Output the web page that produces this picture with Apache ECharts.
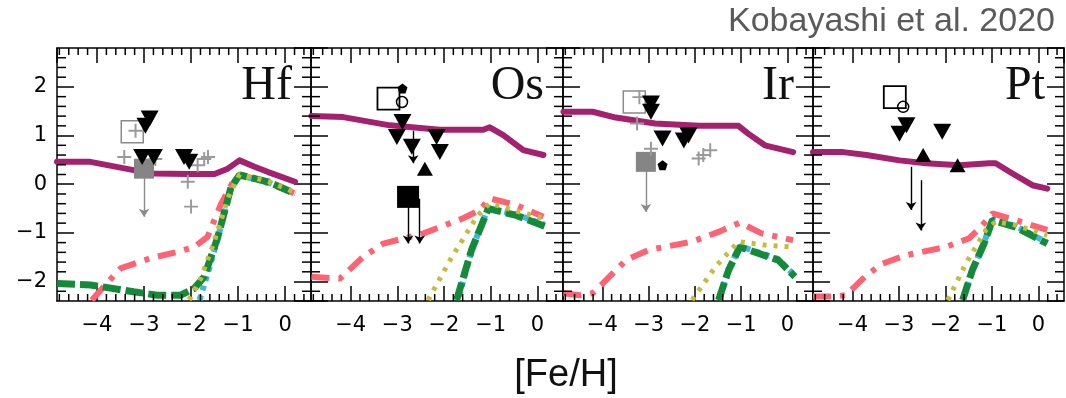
<!DOCTYPE html>
<html>
<head>
<meta charset="utf-8">
<script src="https://cdn.jsdelivr.net/npm/echarts@6/dist/echarts.min.js"></script>
<style>
html,body{margin:0;padding:0;background:#fff;}
#chart{width:1066px;height:398px;}
</style>
</head>
<body>
<div id="chart"></div>
<script>
// ---------- axis ranges / ticks ----------
const X_MIN = -4.85, X_MAX = 0.55, Y_MIN = -2.4, Y_MAX = 2.8;
const X_TICK_LABELS = [-4, -3, -2, -1, 0];
const Y_TICK_LABELS = [-2, -1, 0, 1, 2];
const X_MINOR = [-4.8,-4.6,-4.4,-4.2,-3.8,-3.6,-3.4,-3.2,-2.8,-2.6,-2.4,-2.2,-1.8,-1.6,-1.4,-1.2,-0.8,-0.6,-0.4,-0.2,0.2,0.4];
const Y_MINOR = [-2.2,-1.8,-1.6,-1.4,-1.2,-0.8,-0.6,-0.4,-0.2,0.2,0.4,0.6,0.8,1.2,1.4,1.6,1.8,2.2,2.4,2.6];
const ELEMENTS = ['Hf', 'Os', 'Ir', 'Pt'];

// ---------- Hf ----------
const HF_MAGENTA = [[-4.85,0.46],[-4.14,0.46],[-3.22,0.29],[-2.79,0.22],[-2.07,0.21],[-1.5,0.21],[-1.22,0.32],[-0.97,0.49],[-0.65,0.36],[-0.36,0.25],[0.21,0.05]];
const HF_PINK = [[-4.11,-2.38],[-3.86,-2.11],[-3.5,-1.73],[-2.86,-1.52],[-2.29,-1.39],[-1.93,-1.29],[-1.65,-1.08],[-1.36,-0.40],[-1.07,0.12],[-0.93,0.19],[-0.36,0.02],[0.21,-0.19]];
const HF_GREEN = [[-4.85,-2.04],[-4.14,-2.07],[-3.22,-2.21],[-2.72,-2.28],[-2.22,-2.28],[-1.93,-2.14],[-1.72,-1.9],[-1.43,-1.08],[-1.15,-0.06],[-0.97,0.19],[-0.36,0.05],[0.21,-0.19]];
const HF_CYAN = [[-1.82,-2.38],[-1.62,-1.75],[-1.43,-1.1],[-1.15,-0.08],[-0.97,0.18],[-0.36,0.04],[0.21,-0.2]];
const HF_OLIVE = [[-2.04,-2.38],[-1.8,-1.95],[-1.55,-1.3],[-1.2,-0.25],[-0.97,0.2],[-0.36,0.06],[0.21,-0.17]];
const HF_TRI_DOWN = [[-2.97,1.2],[-2.88,1.35],[-3.04,0.56],[-2.79,0.56],[-2.15,0.56],[-2.04,0.46]];
const HF_TRI_UP = [];
const HF_SQ_OPEN_GREY = [[-3.25,1.08]];
const HF_SQ_FILL_GREY = [[-3.0,0.32]];
const HF_CROSS_GREY = [[-3.18,1.1],[-3.42,0.56],[-2.76,0.52],[-1.86,0.39],[-1.64,0.56],[-1.72,0.52],[-2.07,0.05],[-2.0,-0.46]];
const HF_ARROW_GREY = [[-3.0,0.25,-0.67]];
const HF_ARROW_BLACK = [];
const HF_SQ_OPEN = [];
const HF_CIRCLE_OPEN = [];
const HF_SQ_FILL = [];
const HF_DOT = [];

// ---------- Os ----------
const OS_MAGENTA = [[-4.84,1.40],[-4.16,1.38],[-3.16,1.21],[-2.09,1.12],[-1.16,1.12],[-1.02,1.17],[-0.73,1.01],[-0.30,0.70],[0.13,0.60]];
const OS_PINK = [[-4.84,-1.90],[-4.23,-1.94],[-3.73,-1.49],[-3.30,-1.22],[-2.44,-1.01],[-1.59,-0.70],[-1.23,-0.53],[-1.02,-0.29],[-0.45,-0.43],[0.13,-0.67]];
const OS_GREEN = [[-1.73,-2.38],[-1.41,-1.35],[-1.05,-0.50],[-0.45,-0.64],[0.2,-0.88]];
const OS_CYAN = [[-1.68,-2.3],[-1.4,-1.33],[-1.05,-0.48],[-0.45,-0.62],[0.15,-0.83]];
const OS_OLIVE = [[-2.34,-2.38],[-1.87,-1.56],[-1.30,-0.67],[-1.02,-0.39],[-0.45,-0.55],[0.13,-0.70]];
const OS_TRI_DOWN = [[-3.01,0.97],[-2.89,1.28],[-2.69,0.77],[-2.16,0.97],[-2.09,0.66]];
const OS_TRI_UP = [[-2.41,0.32]];
const OS_SQ_OPEN_GREY = [];
const OS_SQ_FILL_GREY = [];
const OS_CROSS_GREY = [];
const OS_ARROW_GREY = [];
const OS_ARROW_BLACK = [[-2.66,1.1,0.43],[-2.77,-0.3,-1.22],[-2.52,-0.3,-1.22]];
const OS_SQ_OPEN = [[-3.19,1.76]];
const OS_CIRCLE_OPEN = [[-2.90,1.69]];
const OS_SQ_FILL = [[-2.77,-0.26]];
const OS_DOT = [[-2.89,1.97]];

// ---------- Ir ----------
const IR_MAGENTA = [[-4.84,1.49],[-4.21,1.49],[-3.71,1.37],[-2.86,1.25],[-1.92,1.20],[-1.06,1.20],[-0.85,1.04],[-0.49,0.80],[0.12,0.66]];
const IR_PINK = [[-4.84,-2.24],[-4.49,-2.28],[-4.21,-2.24],[-3.99,-2.04],[-3.49,-1.56],[-2.99,-1.35],[-2.06,-1.18],[-1.49,-0.98],[-1.03,-0.79],[-0.56,-1.01],[0.12,-1.15]];
const IR_GREEN = [[-1.49,-2.38],[-1.27,-1.76],[-1.03,-1.29],[-0.20,-1.56],[0.16,-1.90]];
const IR_CYAN = [[-1.45,-2.3],[-1.27,-1.74],[-1.03,-1.27],[-0.2,-1.54],[0.16,-1.88]];
const IR_OLIVE = [[-2.06,-2.38],[-1.56,-1.70],[-1.06,-1.18],[-0.49,-1.25],[0.12,-1.29]];
const IR_TRI_DOWN = [[-2.95,1.66],[-2.95,1.49],[-2.70,0.94],[-2.24,0.90],[-2.14,1.0]];
const IR_TRI_UP = [];
const IR_SQ_OPEN_GREY = [[-3.31,1.69]];
const IR_SQ_FILL_GREY = [[-3.06,0.46]];
const IR_CROSS_GREY = [[-3.2,1.79],[-3.25,1.25],[-1.92,0.53],[-1.67,0.70],[-2.95,0.73],[-1.82,0.6]];
const IR_ARROW_GREY = [[-3.06,0.4,-0.57]];
const IR_ARROW_BLACK = [];
const IR_SQ_OPEN = [];
const IR_CIRCLE_OPEN = [];
const IR_SQ_FILL = [];
const IR_DOT = [[-2.70,0.39]];

// ---------- Pt ----------
const PT_MAGENTA = [[-4.85,0.66],[-4.20,0.66],[-3.70,0.60],[-2.99,0.49],[-2.42,0.43],[-1.70,0.39],[-1.06,0.43],[-0.92,0.43],[-0.56,0.22],[-0.13,-0.02],[0.19,-0.09]];
const PT_PINK = [[-4.85,-2.31],[-4.41,-2.31],[-4.13,-2.28],[-3.99,-2.14],[-3.70,-1.87],[-3.35,-1.63],[-2.85,-1.46],[-1.99,-1.29],[-1.49,-1.11],[-1.24,-0.88],[-0.99,-0.60],[-0.49,-0.74],[0.19,-0.94]];
const PT_GREEN = [[-1.63,-2.38],[-1.42,-1.76],[-1.17,-1.22],[-0.99,-0.74],[-0.49,-0.88],[0.19,-1.22]];
const PT_CYAN = [[-1.6,-2.3],[-1.4,-1.72],[-1.17,-1.2],[-0.99,-0.72],[-0.49,-0.86],[0.19,-1.2]];
const PT_OLIVE = [[-1.95,-2.38],[-1.56,-1.63],[-1.13,-0.94],[-0.92,-0.77],[-0.49,-0.84],[0.19,-1.05]];
const PT_TRI_DOWN = [[-2.99,1.04],[-2.84,1.21],[-2.07,1.08]];
const PT_TRI_UP = [[-2.48,0.60],[-1.74,0.39]];
const PT_SQ_OPEN_GREY = [];
const PT_SQ_FILL_GREY = [];
const PT_CROSS_GREY = [];
const PT_ARROW_GREY = [];
const PT_ARROW_BLACK = [[-2.74,0.36,-0.53],[-2.53,0.08,-0.95]];
const PT_SQ_OPEN = [[-3.09,1.79]];
const PT_CIRCLE_OPEN = [[-2.91,1.59]];
const PT_SQ_FILL = [];
const PT_DOT = [];

// ---------- assemble ----------
const PANEL_DATA = [
  {magenta:HF_MAGENTA,pink:HF_PINK,green:HF_GREEN,cyan:HF_CYAN,olive:HF_OLIVE,triDown:HF_TRI_DOWN,triUp:HF_TRI_UP,sqOpenGrey:HF_SQ_OPEN_GREY,sqFillGrey:HF_SQ_FILL_GREY,crossGrey:HF_CROSS_GREY,arrowGrey:HF_ARROW_GREY,arrowBlack:HF_ARROW_BLACK,sqOpen:HF_SQ_OPEN,circOpen:HF_CIRCLE_OPEN,sqFill:HF_SQ_FILL,dot:HF_DOT},
  {magenta:OS_MAGENTA,pink:OS_PINK,green:OS_GREEN,cyan:OS_CYAN,olive:OS_OLIVE,triDown:OS_TRI_DOWN,triUp:OS_TRI_UP,sqOpenGrey:OS_SQ_OPEN_GREY,sqFillGrey:OS_SQ_FILL_GREY,crossGrey:OS_CROSS_GREY,arrowGrey:OS_ARROW_GREY,arrowBlack:OS_ARROW_BLACK,sqOpen:OS_SQ_OPEN,circOpen:OS_CIRCLE_OPEN,sqFill:OS_SQ_FILL,dot:OS_DOT},
  {magenta:IR_MAGENTA,pink:IR_PINK,green:IR_GREEN,cyan:IR_CYAN,olive:IR_OLIVE,triDown:IR_TRI_DOWN,triUp:IR_TRI_UP,sqOpenGrey:IR_SQ_OPEN_GREY,sqFillGrey:IR_SQ_FILL_GREY,crossGrey:IR_CROSS_GREY,arrowGrey:IR_ARROW_GREY,arrowBlack:IR_ARROW_BLACK,sqOpen:IR_SQ_OPEN,circOpen:IR_CIRCLE_OPEN,sqFill:IR_SQ_FILL,dot:IR_DOT},
  {magenta:PT_MAGENTA,pink:PT_PINK,green:PT_GREEN,cyan:PT_CYAN,olive:PT_OLIVE,triDown:PT_TRI_DOWN,triUp:PT_TRI_UP,sqOpenGrey:PT_SQ_OPEN_GREY,sqFillGrey:PT_SQ_FILL_GREY,crossGrey:PT_CROSS_GREY,arrowGrey:PT_ARROW_GREY,arrowBlack:PT_ARROW_BLACK,sqOpen:PT_SQ_OPEN,circOpen:PT_CIRCLE_OPEN,sqFill:PT_SQ_FILL,dot:PT_DOT}
];

const GRID_LEFT = [57, 311, 563, 813];
const GRID_RIGHT = [311, 563, 813, 1064];
const GRID_TOP = 48, GRID_H = 253;
const AX = {color:'#000', width:1.5};
const TICK_FONT = 'DejaVu Sans';
const MINOR_LEN_X = 7, MINOR_LEN_Y = 9;
const isLabel = (arr, v) => arr.some(t => Math.abs(t - v) < 1e-6);
const sgn = v => (v < 0 ? '\u2212' + Math.abs(Math.round(v)) : String(Math.round(v)));
const fmtX = v => (isLabel(X_TICK_LABELS, v) ? sgn(v) : '');
const fmtY = v => (isLabel(Y_TICK_LABELS, v) ? sgn(v) : '');
const CROSS = 'path://M4.3,0h1.4v10h-1.4zM0,4.3h10v1.4h-10z';
const PENT = 'path://M5,0L10,3.8L8.1,10L1.9,10L0,3.8Z';

const grids = [], xAxes = [], yAxes = [], series = [], graphics = [];

PANEL_DATA.forEach((p, g) => {
  grids.push({left: GRID_LEFT[g], top: GRID_TOP, width: GRID_RIGHT[g] - GRID_LEFT[g], height: GRID_H, containLabel: false});
  const common = {type:'value', gridIndex:g, splitLine:{show:false}, splitNumber:5, minorTick:{show:false},
    axisLine:{show:true, onZero:false, lineStyle:AX},
    axisTick:{show:true, inside:true, length:15, lineStyle:AX}};
  xAxes.push(Object.assign({}, common, {min:X_MIN, max:X_MAX, position:'bottom',
    axisLabel:{show:true, showMinLabel:false, showMaxLabel:false, formatter:fmtX, color:'#000', fontFamily:TICK_FONT, fontSize:21, margin:14}}));
  xAxes.push(Object.assign({}, common, {min:X_MIN, max:X_MAX, position:'top', axisLabel:{show:false}}));
  yAxes.push(Object.assign({}, common, {min:Y_MIN, max:Y_MAX, position:'left',
    axisTick:{show:true, inside:true, length:17, lineStyle:AX},
    axisLabel:{show:g === 0, showMinLabel:false, showMaxLabel:false, formatter:fmtY, color:'#000', fontFamily:TICK_FONT, fontSize:21, margin:10}}));
  yAxes.push(Object.assign({}, common, {min:Y_MIN, max:Y_MAX, position:'right',
    axisTick:{show:true, inside:true, length:17, lineStyle:AX}, axisLabel:{show:false}}));

  const xi = 2 * g, yi = 2 * g;
  const line = (data, style, z) => ({type:'line', xAxisIndex:xi, yAxisIndex:yi, data, showSymbol:false, symbol:'none',
    smooth:false, clip:true, silent:true, z, lineStyle:style});
  series.push(line(p.pink, {color:'#ff6272', width:6, type:[18,9,5,9], cap:'butt'}, 2));
  series.push(line(p.cyan, {color:'#3db6e6', width:6, type:[5,5], cap:'butt'}, 3));
  series.push(line(p.green, {color:'#148a3b', width:7, type:[18,5], cap:'butt'}, 4));
  series.push(line(p.olive, {color:'#c6bb3c', width:5, type:[4,7], cap:'butt'}, 5));
  series.push(line(p.magenta, {color:'#a3216e', width:6, cap:'round', join:'round'}, 6));

  const scat = (data, symbol, size, style, rot, z) => ({type:'scatter', xAxisIndex:xi, yAxisIndex:yi, data, symbol,
    symbolSize:size, symbolRotate:rot || 0, itemStyle:Object.assign({opacity:1}, style), silent:true, z:z || 10});
  const arrows = (data, color) => ({type:'lines', coordinateSystem:'cartesian2d', xAxisIndex:xi, yAxisIndex:yi,
    data: data.map(a => ({coords:[[a[0], a[1]], [a[0], a[2]]]})), symbol:['none','arrow'], symbolSize:[0, 8],
    lineStyle:{color, width:1.4, opacity:1, curveness:0}, silent:true, z:9});

  series.push(arrows(p.arrowGrey, '#8a8a8a'));
  series.push(arrows(p.arrowBlack, '#000'));
  series.push(scat(p.sqOpenGrey, 'rect', 22, {color:'rgba(0,0,0,0)', borderColor:'#8a8a8a', borderWidth:1.5}, 0, 10));
  series.push(scat(p.sqOpen, 'rect', 22, {color:'rgba(0,0,0,0)', borderColor:'#000', borderWidth:1.8}, 0, 10));
  series.push(scat(p.circOpen, 'circle', 11, {color:'rgba(0,0,0,0)', borderColor:'#000', borderWidth:1.5}, 0, 11));
  series.push(scat(p.sqFillGrey, 'rect', 20, {color:'#858585'}, 0, 10));
  series.push(scat(p.sqFill, 'rect', 22, {color:'#000'}, 0, 10));
  series.push(scat(p.crossGrey, CROSS, 14, {color:'#9a9a9a'}, 0, 11));
  series.push(scat(p.triDown, 'triangle', [18, 16], {color:'#000'}, 180, 12));
  series.push(scat(p.triUp, 'triangle', [16, 14], {color:'#000'}, 0, 12));
  series.push(scat(p.dot, PENT, 10, {color:'#000'}, 0, 12));

  graphics.push({type:'text', x: GRID_RIGHT[g] - 19, y: 86, z: 20,
    style:{text: ELEMENTS[g], fill:'#111', font:'48px "Liberation Serif"', textAlign:'right', textVerticalAlign:'middle'}});
});

graphics.push({type:'text', x:1055, y:22, style:{text:'Kobayashi et al. 2020', fill:'#5a5a5a',
  font:'34px "Liberation Sans"', textAlign:'right', textVerticalAlign:'middle'}});
graphics.push({type:'text', x:566, y:376, style:{text:'[Fe/H]', fill:'#111',
  font:'38px "Liberation Sans"', textAlign:'center', textVerticalAlign:'middle'}});

const chart = echarts.init(document.getElementById('chart'), null, {renderer:'canvas'});
chart.setOption({
  backgroundColor:'#fff',
  animation:false,
  grid:grids,
  xAxis:xAxes,
  yAxis:yAxes,
  series:series,
  graphic:graphics
});

// minor ticks: positions obtained from each panel's axis scales
const tickEls = [];
const tickLine = (x1, y1, x2, y2) => ({type:'line', silent:true, z:30,
  shape:{x1, y1, x2, y2}, style:{stroke:'#000', lineWidth:1.5}});
PANEL_DATA.forEach((p, g) => {
  const finder = {xAxisIndex: 2 * g, yAxisIndex: 2 * g};
  X_MINOR.forEach(v => {
    const b = chart.convertToPixel(finder, [v, Y_MIN]);
    const t = chart.convertToPixel(finder, [v, Y_MAX]);
    if (b && t) {
      tickEls.push(tickLine(b[0], b[1], b[0], b[1] - MINOR_LEN_X));
      tickEls.push(tickLine(t[0], t[1], t[0], t[1] + MINOR_LEN_X));
    }
  });
  Y_MINOR.forEach(v => {
    const l = chart.convertToPixel(finder, [X_MIN, v]);
    const r = chart.convertToPixel(finder, [X_MAX, v]);
    if (l && r) {
      tickEls.push(tickLine(l[0], l[1], l[0] + MINOR_LEN_Y, l[1]));
      tickEls.push(tickLine(r[0], r[1], r[0] - MINOR_LEN_Y, r[1]));
    }
  });
});
chart.setOption({graphic: graphics.concat(tickEls)});
</script>
</body>
</html>
